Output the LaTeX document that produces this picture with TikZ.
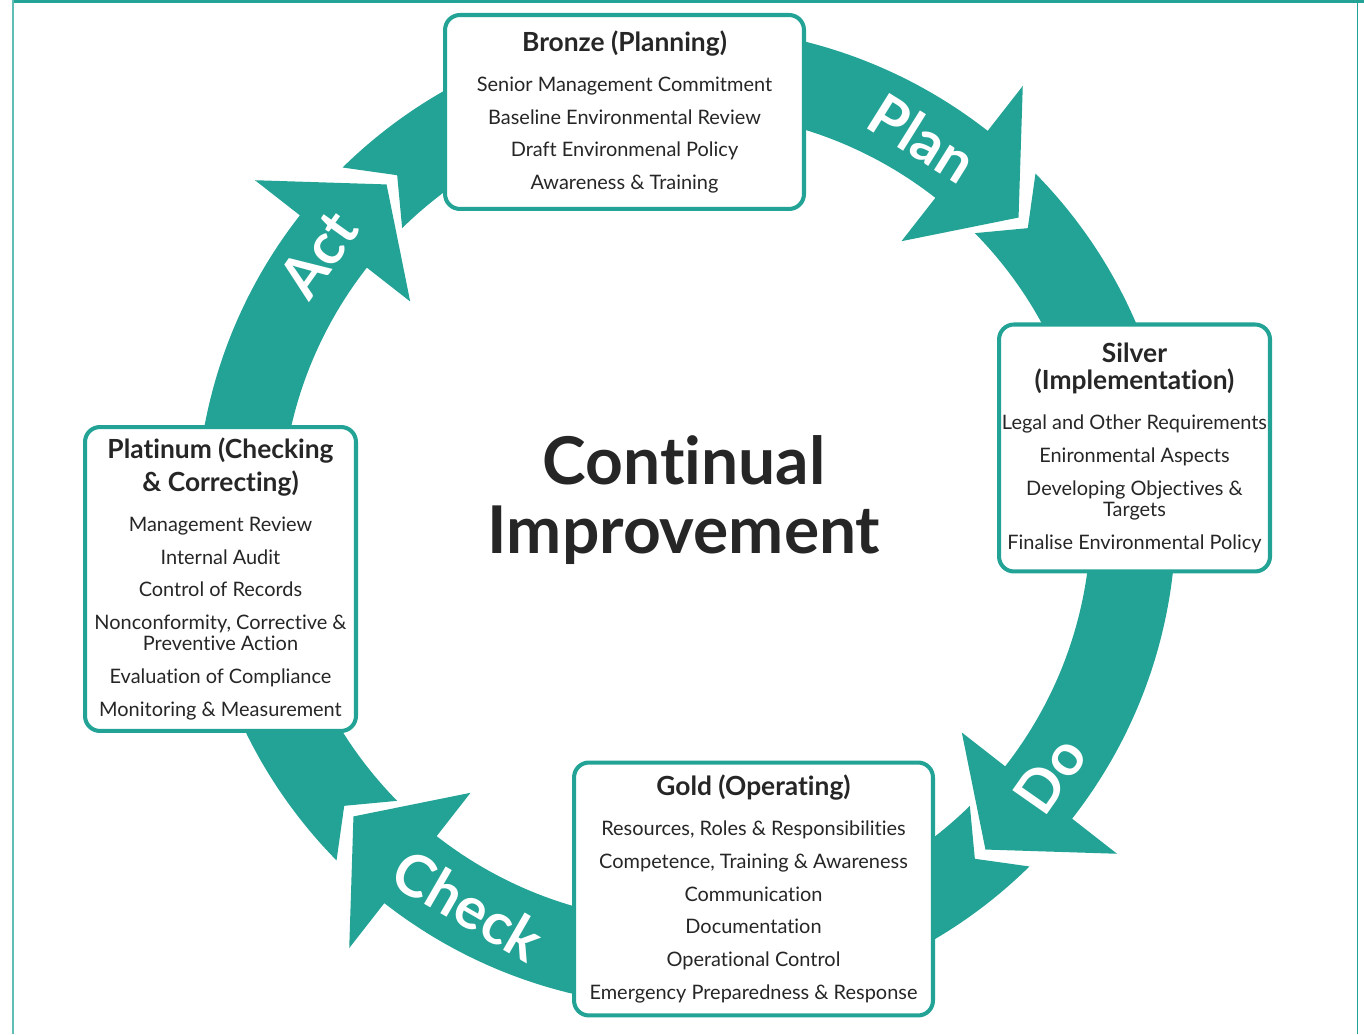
\documentclass[tikz,border=0pt]{standalone}
\usepackage{fontspec}
\setmainfont{Lato}[Ligatures=NoCommon]
\usetikzlibrary{calc}
\definecolor{vert}{RGB}{34,163,150}
\definecolor{vertclair}{RGB}{96,190,180}
\definecolor{gristexte}{RGB}{38,38,38}
\newcommand{\entete}{\fontsize{15}{15.3}\selectfont\bfseries}
% un morceau de l'anneau, #1 = angle de la pointe
\newcommand{\segfleche}[1]{%
  \pgfmathsetmacro{\pq}{#1+92.5}%
  \pgfmathsetmacro{\pv}{#1+88.2}%
  \pgfmathsetmacro{\pb}{#1+10}%
  \fill[vert] ($(C)+(\pq:490)$) arc[start angle=\pq, end angle=\pb, radius=490]
    -- ($(C)+(\pb:547)$) -- ($(C)+(#1:447.5)$) -- ($(C)+(\pb:350)$)
    -- ($(C)+(\pb:405)$) arc[start angle=\pb, end angle=\pq, radius=405]
    -- ($(C)+(\pv:447.5)$) -- cycle;}

\begin{document}
\begin{tikzpicture}[x=0.02cm,y=0.02cm,
  boite/.style={draw=vert, line width=2.3pt, rounded corners=8.5pt, fill=white,
    align=center, inner sep=0pt, text=gristexte, font=\fontsize{11.35}{12}\selectfont},
  mot/.style={text=white, inner sep=0pt, font=\fontsize{33}{33}\selectfont\bfseries}]
\useasboundingbox (0,0) rectangle (1364,1034);
\coordinate (C) at (686,517);

% cadre
\draw[vert, line width=1.7pt] (12,1032.5) -- (1364,1032.5);
\draw[vertclair, line width=1.1pt] (13,0) -- (13,1034);
\draw[vert, line width=0.9pt] (1357.5,0) -- (1357.5,1034);

% anneau : Plan, Do, Check, Act
\segfleche{42}
\segfleche{-48}
\segfleche{-138}
\segfleche{-228}

\node[mot, rotate=-32] (plan) at ($(C)+(58:447)$) {Plan};
\node[mot, rotate=55] (do) at ($(C)+(-35.3:446)$) {Do};
\node[mot, rotate=-30] (check) at ($(C)+(240.7:445)$) {Check};
\node[mot, rotate=54.5] (act) at ($(C)+(144.5:452)$) {Act};

% les quatre niveaux
\node[boite, minimum width=7.18cm, minimum height=3.88cm] (bronze) at (624.5,922) {%
  {\entete Bronze (Planning)}\\[10.7pt]
  Senior Management Commitment\\[6.7pt]
  Baseline Environmental Review\\[6.7pt]
  Draft Environmenal Policy\\[6.7pt]
  Awareness \& Training};
\node[boite, minimum width=5.42cm, minimum height=4.94cm] (silver) at (1134.5,586) {%
  {\entete Silver}\\[3.3pt]
  {\entete (Implementation)}\\[10.7pt]
  Legal and Other Requirements\\[6.7pt]
  Enironmental Aspects\\[6.7pt]
  Developing Objectives \&\\
  Targets\\[6.7pt]
  Finalise Environmental Policy};
\node[boite, minimum width=7.18cm, minimum height=5.06cm] (gold) at (753.5,145) {%
  {\entete Gold (Operating)}\\[10.7pt]
  Resources, Roles \& Responsibilities\\[6.7pt]
  Competence, Training \& Awareness\\[6.7pt]
  Communication\\[6.7pt]
  Documentation\\[6.7pt]
  Operational Control\\[6.7pt]
  Emergency Preparedness \& Response};
\node[boite, minimum width=5.42cm, minimum height=6.08cm] (platinum) at (220.5,455) {%
  {\entete Platinum (Checking}\\[3.3pt]
  {\entete \& Correcting)}\\[10.7pt]
  Management Review\\[6.7pt]
  Internal Audit\\[6.7pt]
  Control of Records\\[6.7pt]
  Nonconformity, Corrective \&\\
  Preventive Action\\[6.7pt]
  Evaluation of Compliance\\[6.7pt]
  Monitoring \& Measurement};

% au centre
\node[align=center, text=gristexte, font=\fontsize{37.5}{39.7}\selectfont\bfseries] (titre) at (684,534)
  {Continual\\Improvement};
\end{tikzpicture}
\end{document}
